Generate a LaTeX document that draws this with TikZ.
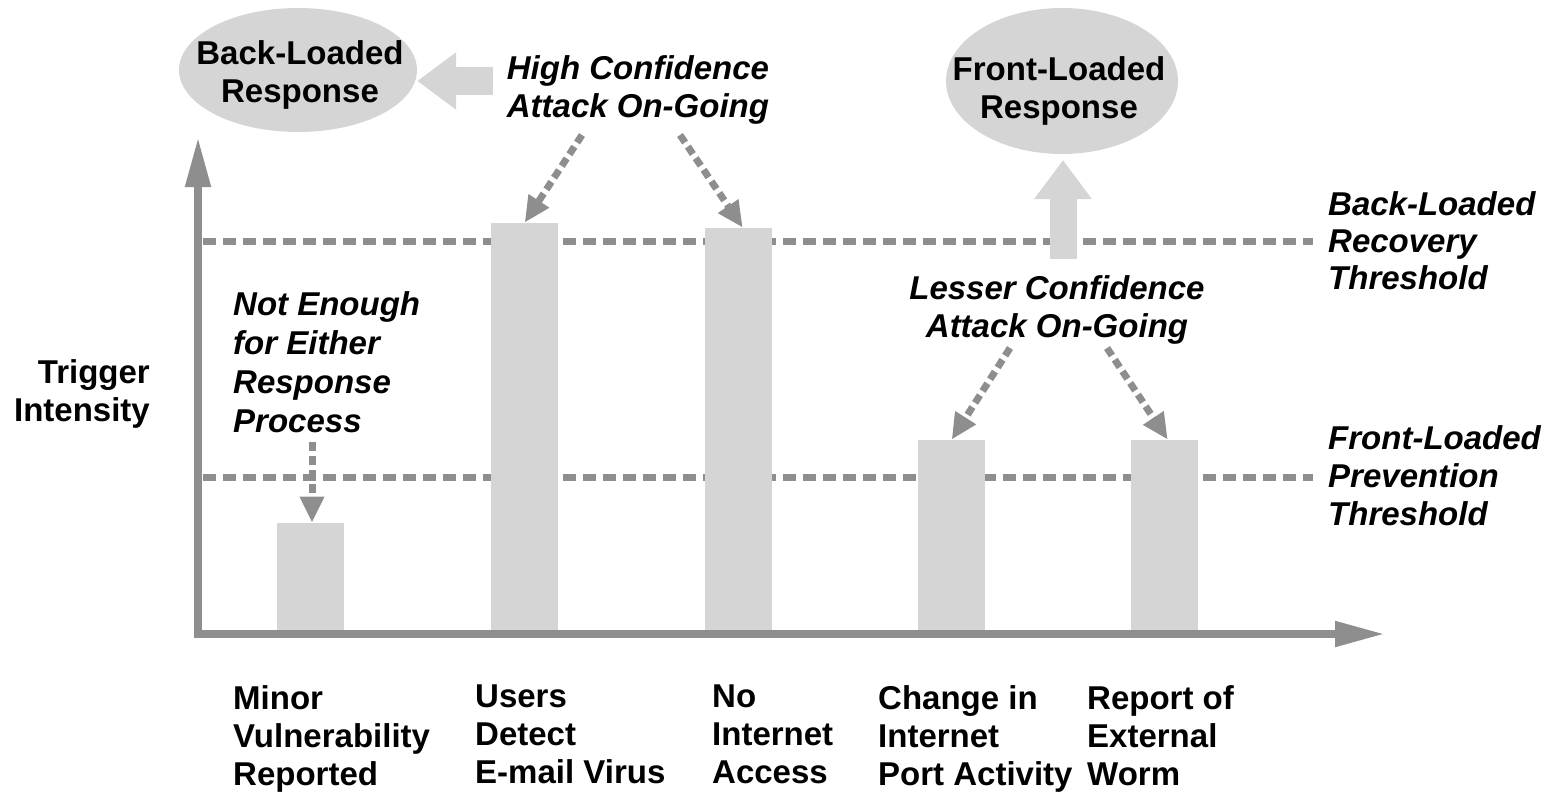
\documentclass[tikz,border=0pt]{standalone}
\usepackage{fontspec}
\setmainfont{Liberation Sans}
\usetikzlibrary{arrows.meta,shapes.geometric}
\definecolor{axisgray}{HTML}{8E8E8E}
\definecolor{fillgray}{HTML}{D5D5D5}
\begin{document}
\begin{tikzpicture}[x=1pt,y=-1pt,
  txt/.style={font=\fontsize{33}{38}\selectfont\bfseries, inner sep=0pt},
  itxt/.style={inner sep=0pt, font=\fontsize{33}{38}\selectfont\bfseries\itshape},
  barbox/.style={fill=fillgray, inner sep=0pt, minimum width=67pt, anchor=south west},
  bubble/.style={ellipse, fill=fillgray, inner sep=0pt},
  threshold/.style={draw=axisgray, line width=7pt, dash pattern=on 13pt off 7pt},
  pointer/.style={draw=axisgray, line width=7pt, dash pattern=on 9pt off 5pt,
    -{Triangle[length=26pt,width=23pt]}},
  bigarrow/.style={draw=fillgray, line width=27pt,
    -{Triangle[length=39pt,width=55pt]}},
  axisline/.style={draw=axisgray, line width=8pt, line join=miter,
    {Triangle[length=50pt,width=24pt]}-{Triangle[length=50pt,width=24pt]}}]

\useasboundingbox (0,0) rectangle (1556,792);

% threshold levels
\coordinate (recA) at (203,241);
\coordinate (recB) at (1313,241);
\coordinate (prevA) at (203,477);
\coordinate (prevB) at (1313,477);
\draw[threshold] (recA) -- (recB);
\draw[threshold] (prevA) -- (prevB);

% trigger bars
\node[barbox, minimum height=107pt] (b1) at (277,630) {};
\node[barbox, minimum height=407pt] (b2) at (491,630) {};
\node[barbox, minimum height=402pt] (b3) at (705,630) {};
\node[barbox, minimum height=190pt] (b4) at (918,630) {};
\node[barbox, minimum height=190pt] (b5) at (1131,630) {};

% axes
\coordinate (ytip) at (198,137);
\coordinate (orig) at (198,634);
\coordinate (xtip) at (1385,634);
\draw[axisline] (ytip) -- (orig) -- (xtip);

% response bubbles
\node[bubble, minimum width=238pt, minimum height=124pt] (back) at (298,70) {};
\node[txt, align=center] (backtxt) at (300,75) {Back-Loaded\\Response};
\node[bubble, minimum width=232pt, minimum height=146pt] (front) at (1062,81) {};
\node[txt, align=center] (fronttxt) at (1059,91) {Front-Loaded\\Response};

% confidence labels
\node[itxt, align=center, anchor=north] (hc) at (638,55) {High Confidence\\Attack On-Going};
\node[itxt, align=center, anchor=north] (lc) at (1057,275) {Lesser Confidence\\Attack On-Going};
\node[itxt, align=left, anchor=north west, font=\fontsize{33}{39}\selectfont\bfseries\itshape]
  (ne) at (233,291) {Not Enough\\for Either\\Response\\Process};

% threshold labels
\node[itxt, align=left, anchor=north west, font=\fontsize{33}{37}\selectfont\bfseries\itshape]
  (rec) at (1328,191) {Back-Loaded\\Recovery\\Threshold};
\node[itxt, align=left, anchor=north west] (prev) at (1328,425) {Front-Loaded\\Prevention\\Threshold};

% axis labels
\node[txt, align=right, anchor=north east] (yl) at (150,359) {Trigger\\Intensity};
\node[txt, align=left, anchor=north west] (l1) at (233,685) {Minor\\Vulnerability\\Reported};
\node[txt, align=left, anchor=north west] (l2) at (475,685) {Users\\Detect\\E-mail Virus};
\node[txt, align=left, anchor=north west] (l3) at (712,685) {No\\Internet\\Access};
\node[txt, align=left, anchor=north west] (l4) at (878,685) {Change in\\Internet\\Port Activity};
\node[txt, align=left, anchor=north west] (l5) at (1087,685) {Report of\\External\\Worm};

% escalation arrows
\coordinate (bigL) at (493,81);
\draw[bigarrow] (bigL) -- (bigL -| back.east);
\coordinate (bigU) at (1063,259);
\coordinate (bigUend) at (1063,160);
\draw[bigarrow] (bigU) -- (bigUend);

% pointers from labels to bars
\coordinate (hcL) at (582,135);
\coordinate (hcR) at (680,135);
\coordinate (lcL) at (1010,348);
\coordinate (lcR) at (1107,348);
\coordinate (neS) at (312,442);
\draw[pointer] (hcL) -- (b2.north);
\draw[pointer] (hcR) -- ([xshift=4pt]b3.north);
\draw[pointer] (lcL) -- (b4.north);
\draw[pointer] (lcR) -- ([xshift=3pt]b5.north);
\draw[pointer] (neS) -- (neS |- b1.north);
\end{tikzpicture}
\end{document}
